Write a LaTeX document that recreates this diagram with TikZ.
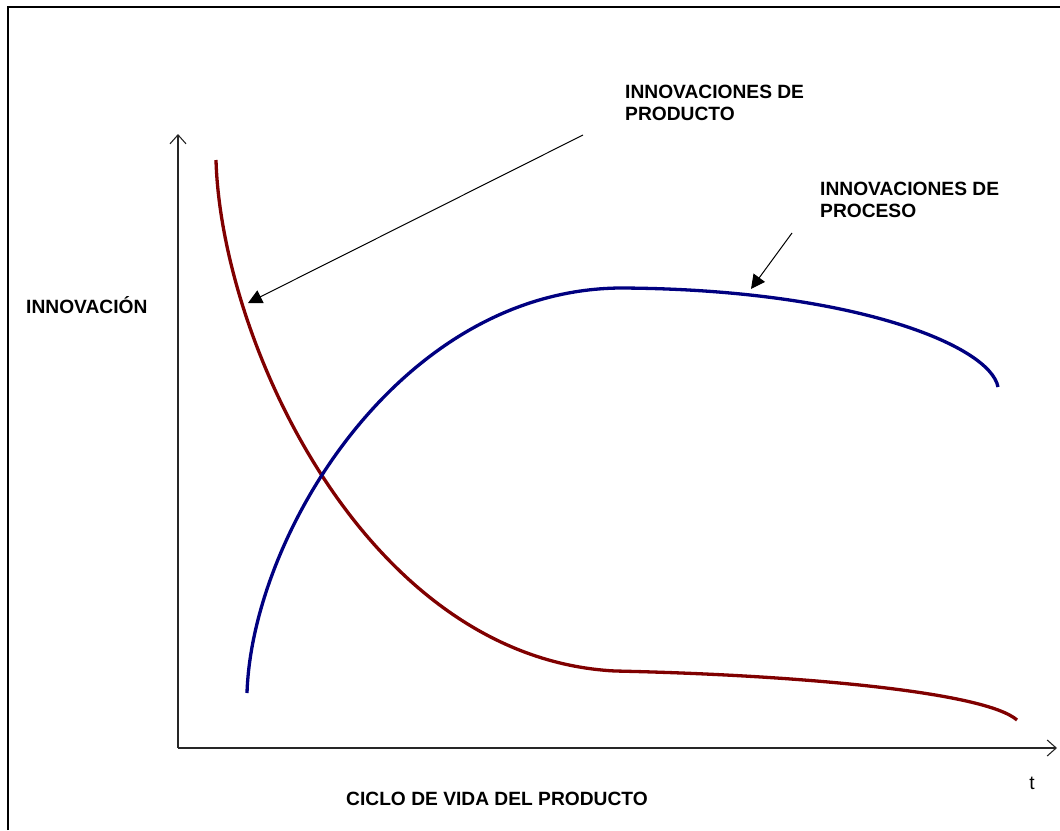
\documentclass[tikz,border=0pt]{standalone}
\usepackage{fontspec}
\setmainfont{Liberation Sans}
\usetikzlibrary{arrows.meta}
\definecolor{prodred}{RGB}{128,0,0}
\definecolor{procblue}{RGB}{0,0,128}
\tikzset{
  lbl/.style={anchor=base west,inner sep=0pt,font=\fontsize{19.2}{22}\selectfont\bfseries,align=left},
  axisline/.style={line width=1.1pt,draw=black!85,-{Straight Barb[length=9pt,width=16pt,line width=1.1pt]}},
  pointer/.style={line width=1pt,-{Triangle[length=14pt,width=14pt]}},
  curveprod/.style={line width=3.3pt,draw=prodred},
  curveproc/.style={line width=3.3pt,draw=procblue},
}
\begin{document}
\begin{tikzpicture}[x=1pt,y=-1pt]
\useasboundingbox (0,0) rectangle (1060,830);
% frame: top and left edges
\draw[line width=2.2pt] (8,830) -- (8,7) -- (1060,7);

% axes
\coordinate (O) at (178,748);
\coordinate (ytip) at (178,134);
\coordinate (xtip) at (1057,748);
\draw[axisline] (O) -- (ytip);
\draw[axisline] (O) -- (xtip);

% product innovation curve
\coordinate (r0) at (216,160);
\coordinate (r1) at (615,671);
\coordinate (r2) at (1017,720);
\draw[curveprod] (r0) .. controls (221,340) and (365,658) .. (r1)
                      .. controls (800,675) and (985,692) .. (r2);

% process innovation curve
\coordinate (b0) at (247,693);
\coordinate (b1) at (620,288);
\coordinate (b2) at (998,387);
\draw[curveproc] (b0) .. controls (252,535) and (400,290) .. (b1)
                      .. controls (850,289) and (990,345) .. (b2);

% labels
\node[lbl] (yl) at (26,313) {INNOVACIÓN};
\node[lbl] (xl) at (346,805) {CICLO DE VIDA DEL PRODUCTO};
\node[anchor=base,inner sep=0pt,font=\fontsize{19.2}{22}\selectfont] (tl) at (1032,789) {t};
\node[lbl] (lprod) at (625,120) {INNOVACIONES DE\\PRODUCTO};
\node[lbl] (lproc) at (820,217) {INNOVACIONES DE\\PROCESO};

% pointers to the curves
\coordinate (p1s) at (583,135);
\coordinate (p1e) at (248,303);
\coordinate (p2s) at (792,233);
\coordinate (p2e) at (751,289);
\draw[pointer] (p1s) -- (p1e);
\draw[pointer] (p2s) -- (p2e);
\end{tikzpicture}
\end{document}
